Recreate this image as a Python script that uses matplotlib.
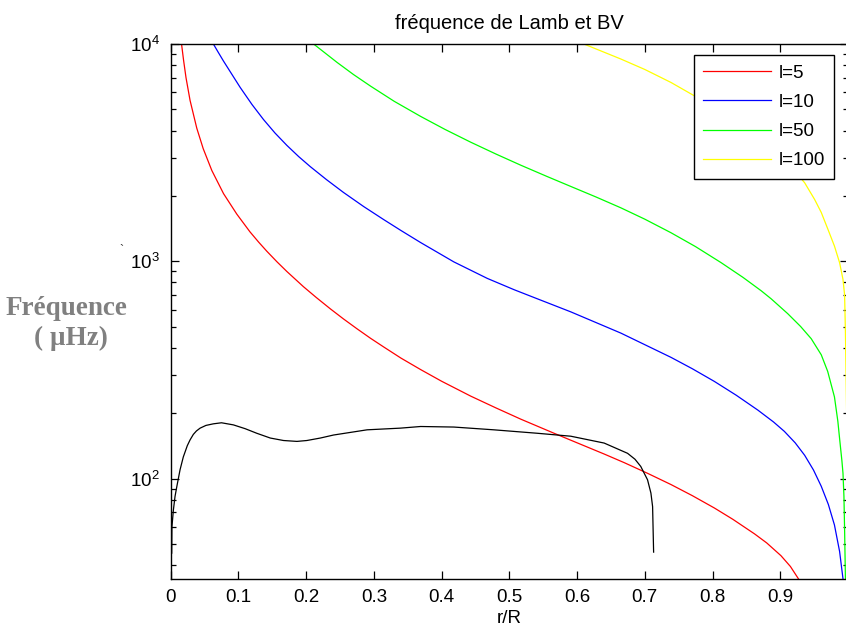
"""
Lamb frequencies for a few degrees l and the Brunt-Vaisala frequency
plotted against the fractional radius r/R.
"""

import matplotlib
matplotlib.use('Agg')
import matplotlib.pyplot as plt
import matplotlib.ticker as ticker

# Lamb frequency, l=5
r_l5 = [0.016, 0.019, 0.0226, 0.0286, 0.0385, 0.048, 0.0607, 0.078, 0.0976,
        0.117, 0.13, 0.142, 0.157, 0.1716, 0.196, 0.215, 0.2357, 0.255,
        0.275, 0.295, 0.3145, 0.34, 0.369, 0.40, 0.443, 0.48, 0.517,
        0.566, 0.60, 0.64, 0.67, 0.704, 0.7386, 0.77, 0.8027, 0.83,
        0.862, 0.88, 0.901, 0.915, 0.927]
f_l5 = [10000, 8420, 7000, 5500, 4100, 3300, 2620, 2050, 1650,
        1368, 1225, 1113, 995, 898, 765, 682, 605, 544,
        490, 443, 404, 359, 318, 281, 240, 212, 188,
        162, 146.4, 130, 118.5, 106, 94.1, 83.7, 73.4, 65.1,
        55.8, 50.7, 44.3, 39.5, 34.6]

# Lamb frequency, l=10
r_l10 = [0.063, 0.07, 0.078, 0.1025, 0.12, 0.137, 0.154, 0.1716, 0.189,
         0.206, 0.23, 0.255, 0.285, 0.3145, 0.34, 0.369, 0.418, 0.4675,
         0.507, 0.536, 0.5907, 0.6646, 0.7386, 0.77, 0.8027, 0.835, 0.867,
         0.89, 0.906, 0.922, 0.936, 0.949, 0.9605, 0.971, 0.98, 0.9876,
         0.9926]
f_l10 = [10000, 9180, 8340, 6320, 5270, 4494, 3895, 3415, 3034,
         2730, 2378, 2077, 1787, 1557, 1387, 1221, 995, 835,
         741, 683, 586, 468, 362, 321, 280.5, 242.3, 206.9,
         182.6, 165.3, 146.4, 128.3, 109.8, 92.4, 76.2, 61.3, 46.3,
         34.7]

# Lamb frequency, l=50
r_l50 = [0.211, 0.2456, 0.27, 0.295, 0.33, 0.369, 0.405, 0.443, 0.48,
         0.517, 0.555, 0.5907, 0.628, 0.6646, 0.70, 0.7386, 0.775, 0.8126,
         0.845, 0.872, 0.8865, 0.911, 0.93, 0.9457, 0.9605, 0.970, 0.980,
         0.985, 0.9876, 0.991, 0.9926, 0.994, 0.995, 0.9962]
f_l50 = [10000, 8230, 7233, 6403, 5450, 4645, 4047, 3534, 3120,
         2769, 2463, 2212, 1978, 1764, 1564, 1355, 1169, 987,
         844, 732, 673, 575, 502, 441, 372, 312, 238,
         184, 153, 121, 106, 83, 58, 34.6]

# Lamb frequency, l=100 (middle part sits behind the legend)
r_l100 = [0.61, 0.6646, 0.70, 0.7386, 0.773, 0.83, 0.89, 0.936, 0.9506,
          0.9605, 0.9704, 0.98, 0.9876, 0.9926, 0.995, 0.9962, 0.998, 0.9995]
f_l100 = [10000, 8530, 7636, 6655, 5780, 4600, 3400, 2300, 1930,
          1680, 1404, 1176, 986, 826, 700, 470, 200, 35]

# Brunt-Vaisala frequency
r_bv = [0.0015, 0.0018, 0.004, 0.0064, 0.009, 0.0138, 0.0186, 0.0245, 0.0286,
        0.0334, 0.038, 0.0434, 0.052, 0.063, 0.075, 0.0926, 0.11, 0.127,
        0.147, 0.1666, 0.1864, 0.201, 0.221, 0.2405, 0.29, 0.339, 0.369,
        0.418, 0.477, 0.541, 0.5907, 0.64, 0.6745, 0.6855, 0.694, 0.704,
        0.709, 0.7115, 0.713]
f_bv = [45.5, 60, 72, 83, 92, 110, 126, 142, 151,
        160, 166, 171, 176, 179, 181, 177, 170, 162,
        154, 150, 148.6, 150, 154, 159, 168, 171, 174,
        173, 168, 162, 157, 146, 131, 123, 114, 99,
        86, 74.5, 46]

x_ticks = [0, 0.1, 0.2, 0.3, 0.4, 0.5, 0.6, 0.7, 0.8, 0.9]

plt.rcParams['font.family'] = ['Liberation Sans', 'DejaVu Sans']
plt.rcParams['mathtext.fontset'] = 'custom'
plt.rcParams['mathtext.rm'] = 'Liberation Sans'
plt.rcParams['mathtext.it'] = 'Liberation Sans'

W, H = 846, 632
fig = plt.figure(figsize=(W / 100, H / 100), dpi=100)
ax = fig.add_axes([170.7 / W, 53 / H, (848 - 170.7) / W, 535 / H])

ax.plot(r_l5, f_l5, color='#ff0000', lw=0.9, label='l=5')
ax.plot(r_l10, f_l10, color='#0000ff', lw=0.9, label='l=10')
ax.plot(r_l50, f_l50, color='#00ff00', lw=0.9, label='l=50')
ax.plot(r_l100, f_l100, color='#ffff00', lw=0.9, label='l=100')
ax.plot(r_bv, f_bv, color='black', lw=0.9)

ax.set_yscale('log')
ax.set_xlim(0, 1)
ax.set_ylim(34.6, 1e4)
ax.set_xticks(x_ticks)
ax.set_xticklabels([('%g' % t) for t in x_ticks])
ax.yaxis.set_minor_formatter(ticker.NullFormatter())

ax.tick_params(which='both', direction='in', top=True, right=True,
               color='black', width=0.9)
ax.tick_params(which='major', length=6, labelsize=13.5)
ax.tick_params(which='minor', length=3.5)
ax.tick_params(axis='x', pad=7)
ax.tick_params(axis='y', pad=8)
for spine in ax.spines.values():
    spine.set_linewidth(1.0)
    spine.set_color('black')

ax.set_title('fréquence de Lamb et BV', fontsize=14.5, pad=11)
ax.set_xlabel('r/R', fontsize=13.5, labelpad=3)

leg = ax.legend(loc='upper right', bbox_to_anchor=(834 / W, 1 - 55 / H),
                bbox_transform=fig.transFigure, borderaxespad=0,
                fontsize=13.5, handlelength=3.6, handletextpad=0.41,
                labelspacing=0.65, borderpad=0.5, fancybox=False,
                framealpha=1)
leg.get_frame().set_edgecolor('black')
leg.get_frame().set_linewidth(1.0)

# hand-written axis label on the left
fig.text(66 / W, 1 - 315 / H, 'Fréquence', ha='center', va='baseline',
         family='Liberation Serif', weight='bold', color='#808080',
         fontsize=19.5)
fig.text(70.5 / W, 1 - 345 / H, '( µHz)', ha='center', va='baseline',
         family='Liberation Serif', weight='bold', color='#808080',
         fontsize=19.5)
fig.text(121 / W, 1 - 254 / H, '`', ha='center', va='baseline',
         color='#333333', fontsize=9)

fig.savefig('out.png', dpi=100)
